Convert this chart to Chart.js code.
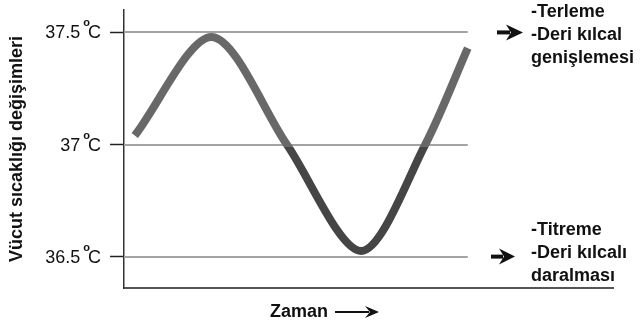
<!DOCTYPE html>
<html>
<head>
<meta charset="utf-8">
<script src="https://cdn.jsdelivr.net/npm/chart.js@4"></script>
<style>
  html, body { margin: 0; padding: 0; background: #fff; }
  #wrap { width: 643px; height: 329px; position: relative; }
</style>
</head>
<body>
<div id="wrap"><canvas id="chart"></canvas></div>
<script>
// values
const timeValues = [2.2, 18.0, 33.3, 48.5, 61.6, 70.3]
const temperatures = [37.04, 37.48, 37.0, 36.525, 37.0, 37.43]
const tickValues = [36.5, 37, 37.5]
const tickNumbers = ['36.5', '37', '37.5']
const highNotes = ['-Terleme', '-Deri kılcal', 'genişlemesi']
const lowNotes = ['-Titreme', '-Deri kılcalı', 'daralması']
const yTitle = 'Vücut sıcaklığı değişimleri'
const xTitle = 'Zaman'

const FONT = "'Liberation Sans', Arial, sans-serif"

function arrow(c, x0, x1, y, shaft, headLen, headHalf) {
  c.save()
  c.strokeStyle = '#111'
  c.fillStyle = '#111'
  c.lineWidth = shaft
  c.beginPath()
  c.moveTo(x0, y)
  c.lineTo(x1 - headLen + 4, y)
  c.stroke()
  c.beginPath()
  c.moveTo(x1, y)
  c.lineTo(x1 - headLen, y - headHalf)
  c.lineTo(x1 - headLen + 5, y)
  c.lineTo(x1 - headLen, y + headHalf)
  c.closePath()
  c.fill()
  c.restore()
}

const gridPlugin = {
  id: 'gridToCurveEnd',
  beforeDatasetsDraw(chart) {
    const c = chart.ctx, x = chart.scales.x, y = chart.scales.y
    const xEnd = x.getPixelForValue(timeValues[timeValues.length - 1])
    c.save()
    c.strokeStyle = '#a3a3a3'
    c.lineWidth = 2
    tickValues.forEach(v => {
      const py = Math.round(y.getPixelForValue(v))
      c.beginPath()
      c.moveTo(chart.chartArea.left, py)
      c.lineTo(xEnd, py)
      c.stroke()
    })
    c.restore()
  }
}

const textPlugin = {
  id: 'labels',
  afterDraw(chart) {
    const c = chart.ctx, y = chart.scales.y, area = chart.chartArea
    c.save()
    c.fillStyle = '#111'
    c.textBaseline = 'alphabetic'

    // tick labels with superscript o
    tickValues.forEach((v, i) => {
      const py = y.getPixelForValue(v)
      const right = 101
      c.font = '18px ' + FONT
      c.textAlign = 'right'
      c.fillText('C', right, py + 6)
      const cw = c.measureText('C').width
      c.font = 'bold 11px ' + FONT
      c.fillText('o', right - cw + 2, py - 6)
      const ow = c.measureText('o').width
      c.font = '18px ' + FONT
      c.fillText(tickNumbers[i], right - cw + 2 - ow - 3, py + 6)
    })

    // notes on the right
    c.font = 'bold 18px ' + FONT
    c.textAlign = 'left'
    const hy = y.getPixelForValue(37.5)
    highNotes.forEach((t, i) => c.fillText(t, 531, hy - 15 + i * 23))
    arrow(c, 497, 523, hy, 4, 17, 8)
    const ly = y.getPixelForValue(36.5)
    lowNotes.forEach((t, i) => c.fillText(t, 531, ly - 22 + i * 23))
    arrow(c, 491, 515, ly, 4, 16, 8)

    // x title with arrow
    c.fillText(xTitle, 270, area.bottom + 29)
    arrow(c, 335, 379, area.bottom + 24, 2, 14, 6)
    c.restore()
  }
}

new Chart(document.getElementById('chart'), {
  type: 'line',
  data: {
    datasets: [{
      data: timeValues.map((t, i) => ({ x: t, y: temperatures[i] })),
      borderWidth: 8,
      tension: 0.3,
      pointRadius: 0,
      borderCapStyle: 'butt',
      borderColor: ctx => {
        const chart = ctx.chart
        if (!chart.chartArea) return '#5a5a5a'
        const a = chart.chartArea
        const f = (chart.scales.y.getPixelForValue(37) + 2 - a.top) / (a.bottom - a.top)
        const g = chart.ctx.createLinearGradient(0, a.top, 0, a.bottom)
        g.addColorStop(0, '#686868')
        g.addColorStop(f, '#686868')
        g.addColorStop(f, '#454545')
        g.addColorStop(1, '#454545')
        return g
      }
    }]
  },
  options: {
    responsive: true,
    maintainAspectRatio: false,
    animation: false,
    layout: { padding: { top: 10, right: 30, left: 0, bottom: 0 } },
    plugins: { legend: { display: false }, tooltip: { enabled: false } },
    scales: {
      x: {
        type: 'linear',
        min: 0,
        max: 100,
        ticks: { display: false },
        grid: { drawOnChartArea: false, drawTicks: false },
        border: { color: '#555', width: 2 },
        afterFit: s => { s.height = 41 }
      },
      y: {
        min: 36.36,
        max: 37.6,
        afterBuildTicks: s => { s.ticks = tickValues.map(v => ({ value: v })) },
        ticks: { display: false },
        grid: { drawOnChartArea: false, drawTicks: true, tickLength: 14, tickColor: '#222', tickWidth: 1.5 },
        border: { color: '#333', width: 1.5 },
        title: {
          display: true,
          text: yTitle,
          color: '#111',
          font: { family: FONT, size: 18, weight: 'bold' },
          padding: { top: 6, bottom: 0 }
        },
        afterFit: s => { s.width = 124 }
      }
    }
  },
  plugins: [gridPlugin, textPlugin]
})
</script>
</body>
</html>
